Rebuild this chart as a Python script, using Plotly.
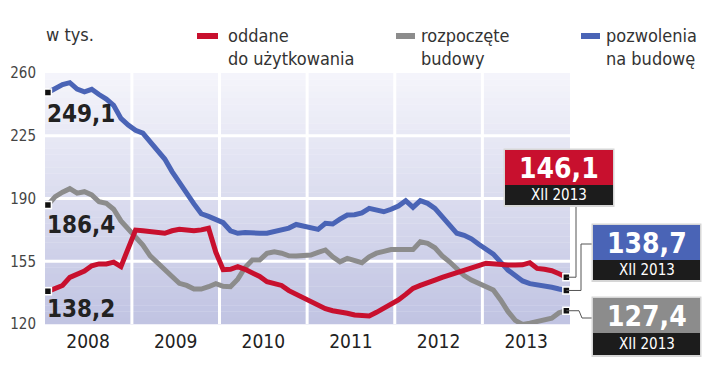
import plotly.graph_objects as go

# ---------------- data ----------------
months = list(range(72))  # Jan 2008 .. Dec 2013
years = ["2008", "2009", "2010", "2011", "2012", "2013"]
y_ticks = [120, 155, 190, 225, 260]

oddane = [138.2, 140, 141.5, 146, 148, 149.5, 152.5, 153.5, 153.5, 154.5, 152, 163,
          172.4, 172, 171.5, 171, 170.6, 172, 172.8, 172.4, 172, 172.5, 173.4, 160,
          150.3, 150.5, 152, 150.5, 148.5, 146.5, 143.6, 142.3, 141.5, 138.6, 136.5, 134.3,
          132, 130.5, 128.5, 127.4, 126.9, 126, 125, 124.8, 124.5, 126.5, 128.8, 131,
          133.4, 136.5, 139.9, 141.5, 142.7, 144.5, 146, 147.3, 148.5, 149.2, 151, 152.5,
          153.9, 153.5, 152.9, 152.9, 152.9, 153, 154.2, 151, 150.5, 149.7, 148, 146.1]

rozpoczete = [186.4, 191, 193.5, 195.5, 193, 193.8, 192, 188.2, 187.3, 184, 177.5, 173,
              169, 164, 158, 153.9, 150.5, 146.5, 142.7, 141.5, 139.5, 139.5, 140.8, 142.5,
              141, 140.8, 145, 151.5, 155.7, 155.7, 159.4, 160.3, 159.5, 158, 157.9, 157.9,
              158.5, 160, 161.3, 157.5, 154.7, 156.6, 155.5, 154.2, 157.5, 159.5, 160.5, 161.5,
              161.6, 161.6, 161.5, 165.9, 165, 162.5, 158, 154.7, 150.5, 147, 144.5, 142.7,
              141, 139, 133.4, 127, 122, 119.8, 120.5, 121.3, 122.5, 123.2, 126.3, 127.4]

pozwolenia = [249.1, 251.5, 253.5, 254.6, 251, 249.5, 250.9, 248, 245.5, 242, 234.7, 231,
              228, 226.5, 222, 216.5, 212, 205, 198.5, 193, 187, 181.5, 180, 178.5,
              176.5, 172, 170.6, 171, 170.6, 170.6, 170.6, 171.5, 172.4, 173.5, 175.5, 174.5,
              173.5, 172.8, 176.2, 175.8, 178.5, 180.8, 181, 182, 184.5, 183.5, 182.6, 184,
              185.8, 188.8, 185.1, 188.8, 187.3, 184.5, 180, 175, 170.6, 169.5, 167.5, 164.5,
              162, 159, 154.5, 150.1, 147, 144, 142.5, 141.8, 141.8, 140.5, 139.5, 138.7]

series_names = ["oddane<br>do użytkowania", "rozpoczęte<br>budowy", "pozwolenia<br>na budowę"]
end_label = "XII 2013"

RED = "#c8102e"
GREY = "#8c8c8c"
BLUE = "#4a64b6"
DARK = "#1c1c1c"
FONT = "Liberation Sans Narrow, DejaVu Sans Condensed, Arial Narrow, sans-serif"

# ---------------- geometry ----------------
W, H = 721, 376
L, R, T, B = 45, 570, 73, 324
XR = [-0.4, 71.5]
YR = [120, 260]


def px(x):
    return (x - L) / (R - L)


def py(y):
    return (B - y) / (B - T)


def dx(i):
    return (i - XR[0]) / (XR[1] - XR[0])


def dy(v):
    return (v - YR[0]) / (YR[1] - YR[0])


def fmt(v):
    return f"{v:.1f}".replace(".", ",")


fig = go.Figure()

series = [(rozpoczete, GREY), (pozwolenia, BLUE), (oddane, RED)]
for vals, col in series:
    fig.add_trace(go.Scatter(x=months, y=vals, mode="lines",
                             line=dict(color=col, width=5), hoverinfo="skip",
                             showlegend=False))
for vals, col in series:
    fig.add_trace(go.Scatter(x=[months[0], months[-1]], y=[vals[0], vals[-1]],
                             mode="markers", cliponaxis=False,
                             marker=dict(symbol="square", size=7, color="#111",
                                         line=dict(color="white", width=1.5)),
                             hoverinfo="skip", showlegend=False))

shapes = []
# gradient background
N = 40
top_c = (245, 245, 251)
bot_c = (192, 195, 226)
for k in range(N):
    t = (k + 0.5) / N
    c = tuple(round(top_c[j] + (bot_c[j] - top_c[j]) * t) for j in range(3))
    shapes.append(dict(type="rect", xref="paper", yref="paper",
                       x0=0, x1=1, y0=1 - (k + 1) / N - 0.001, y1=1 - k / N,
                       fillcolor=f"rgb{c}", line=dict(width=0), layer="below"))
# white grid
for v in y_ticks[1:-1]:
    shapes.append(dict(type="line", xref="paper", yref="y", x0=0, x1=1, y0=v, y1=v,
                       line=dict(color="white", width=3), layer="below"))
for k in range(1, len(years)):
    xv = 12 * k - 0.5
    shapes.append(dict(type="line", xref="x", yref="paper", x0=xv, x1=xv, y0=0, y1=1,
                       line=dict(color="white", width=3), layer="below"))

annotations = []

# y-axis unit
annotations.append(dict(xref="paper", yref="paper", x=px(44), y=py(35), xanchor="left",
                        yanchor="middle", text="w tys.", showarrow=False,
                        font=dict(family=FONT, size=18, color="#333")))

# legend
legend_items = [(RED, 197, 218, 226), (GREY, 396, 415, 419), (BLUE, 581, 600, 604)]
for (col, x0, x1, tx), name in zip(legend_items, series_names):
    shapes.append(dict(type="line", xref="paper", yref="paper", x0=px(x0), x1=px(x1),
                       y0=py(36), y1=py(36), line=dict(color=col, width=6)))
    annotations.append(dict(xref="paper", yref="paper", x=px(tx), y=py(23), xanchor="left",
                            yanchor="top", align="left", text=name, showarrow=False,
                            font=dict(family=FONT, size=18, color="#333")))

# start labels
for vals, off in [(pozwolenia, 21), (rozpoczete, 20), (oddane, 18)]:
    annotations.append(dict(xref="x", yref="y", x=months[0], y=vals[0], xanchor="left",
                            yanchor="middle", yshift=-off, xshift=-3, text=f"<b>{fmt(vals[0])}</b>",
                            showarrow=False, font=dict(family=FONT, size=24, color="#222")))

# callout boxes
boxes = [
    (oddane, RED, 505, 613, 150, 185, 205,
     [(576, None), (576, 205)]),
    (pozwolenia, BLUE, 593, 700, 225, 260, 280,
     [(581, None), (581, 244), (593, 244)]),
    (rozpoczete, GREY, 593, 700, 298, 333, 355,
     [(579, None), (582, 318), (593, 318)]),
]
for vals, col, x0, x1, y0, ym, y1, pts in boxes:
    yv = dy(vals[-1])
    path = f"M {dx(months[-1])},{yv}"
    for (xx, yy) in pts:
        path += f" L {px(xx)},{yv if yy is None else py(yy)}"
    shapes.append(dict(type="path", xref="paper", yref="paper", path=path,
                       line=dict(color="#555", width=1)))
    shapes.append(dict(type="rect", xref="paper", yref="paper",
                       x0=px(x0 - 1.5), x1=px(x1 + 1.5), y0=py(y1 + 2), y1=py(y0 - 1.5),
                       fillcolor="#d6d6d6", line=dict(width=0)))
    shapes.append(dict(type="rect", xref="paper", yref="paper",
                       x0=px(x0), x1=px(x1), y0=py(ym), y1=py(y0),
                       fillcolor=col, line=dict(width=0)))
    shapes.append(dict(type="rect", xref="paper", yref="paper",
                       x0=px(x0), x1=px(x1), y0=py(y1), y1=py(ym),
                       fillcolor=DARK, line=dict(width=0)))
    cx = px((x0 + x1) / 2)
    annotations.append(dict(xref="paper", yref="paper", x=cx, y=py((y0 + ym) / 2 + 1),
                            xanchor="center", yanchor="middle", text=f"<b>{fmt(vals[-1])}</b>",
                            showarrow=False, font=dict(family=FONT, size=28, color="white")))
    annotations.append(dict(xref="paper", yref="paper", x=cx, y=py((ym + y1) / 2),
                            xanchor="center", yanchor="middle", text=end_label,
                            showarrow=False, font=dict(family=FONT, size=15, color="white")))

fig.update_layout(
    width=W, height=H,
    margin=dict(l=L, r=W - R, t=T, b=H - B, pad=0, autoexpand=False),
    paper_bgcolor="white", plot_bgcolor="white",
    shapes=shapes, annotations=annotations,
    xaxis=dict(range=XR, tickvals=[5.5 + 12 * k for k in range(len(years))], ticktext=years,
               showgrid=False, zeroline=False, showline=False, ticks="",
               tickfont=dict(family=FONT, size=19, color="#222"), ticklabelstandoff=4,
               automargin=False, fixedrange=True),
    yaxis=dict(range=YR, tickvals=y_ticks, ticktext=[str(v) for v in y_ticks],
               showgrid=False, zeroline=False, showline=False, ticks="",
               tickfont=dict(family=FONT, size=15, color="#444"), ticklabelstandoff=8,
               automargin=False, fixedrange=True),
    font=dict(family=FONT),
)

fig.write_html("out.html", config={"displayModeBar": False},
               post_script="document.body.style.margin='0';document.body.style.overflow='hidden';")
